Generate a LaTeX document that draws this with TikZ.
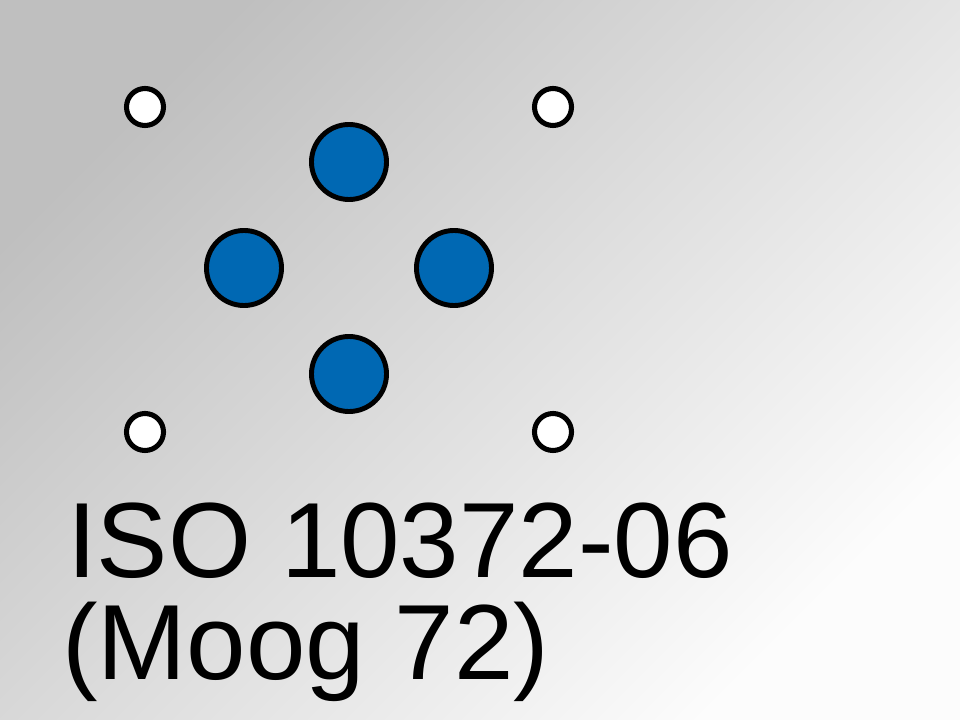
\documentclass[tikz,border=0pt]{standalone}
\usepackage{fontspec}
\newfontfamily\titlefont{Liberation Sans}
\definecolor{pinblue}{rgb}{0,0.408,0.702}
\definecolor{bgdark}{rgb}{0.75,0.75,0.75}
\definecolor{bglight}{rgb}{0.99,0.99,0.99}
\usepackage{tikz}

\begin{document}
\begin{tikzpicture}[x=0.025cm,y=-0.025cm,
  portA/.style={circle, draw=black, line width=3.5pt, fill=pinblue, inner sep=0pt, minimum size=1.875cm},
  screwhole/.style={circle, draw=black, line width=3.6pt, fill=white, inner sep=0pt, minimum size=0.925cm},
  isotext/.style={anchor=base west, inner sep=0pt, font=\titlefont\fontsize{76}{76}\selectfont}]
  \useasboundingbox (0,0) rectangle (960,720);
  \shade[top color=bgdark, bottom color=bglight, shading angle=45] (0,0) rectangle (960,720);

  % mounting holes
  \node[screwhole] (h1) at (145,107) {};
  \node[screwhole] (h2) at (553,107) {};
  \node[screwhole] (h3) at (145,432) {};
  \node[screwhole] (h4) at (553,432) {};

  % ports
  \node[portA] (pt) at (349,162) {};
  \node[portA] (pl) at (244,268) {};
  \node[portA] (pr) at (454,268) {};
  \node[portA] (pb) at (349,374) {};

  \node[isotext] (title1) at (67,577) {ISO 10372-06};
  \node[isotext] (title2) at (62,679) {(Moog 72)};
\end{tikzpicture}
\end{document}
